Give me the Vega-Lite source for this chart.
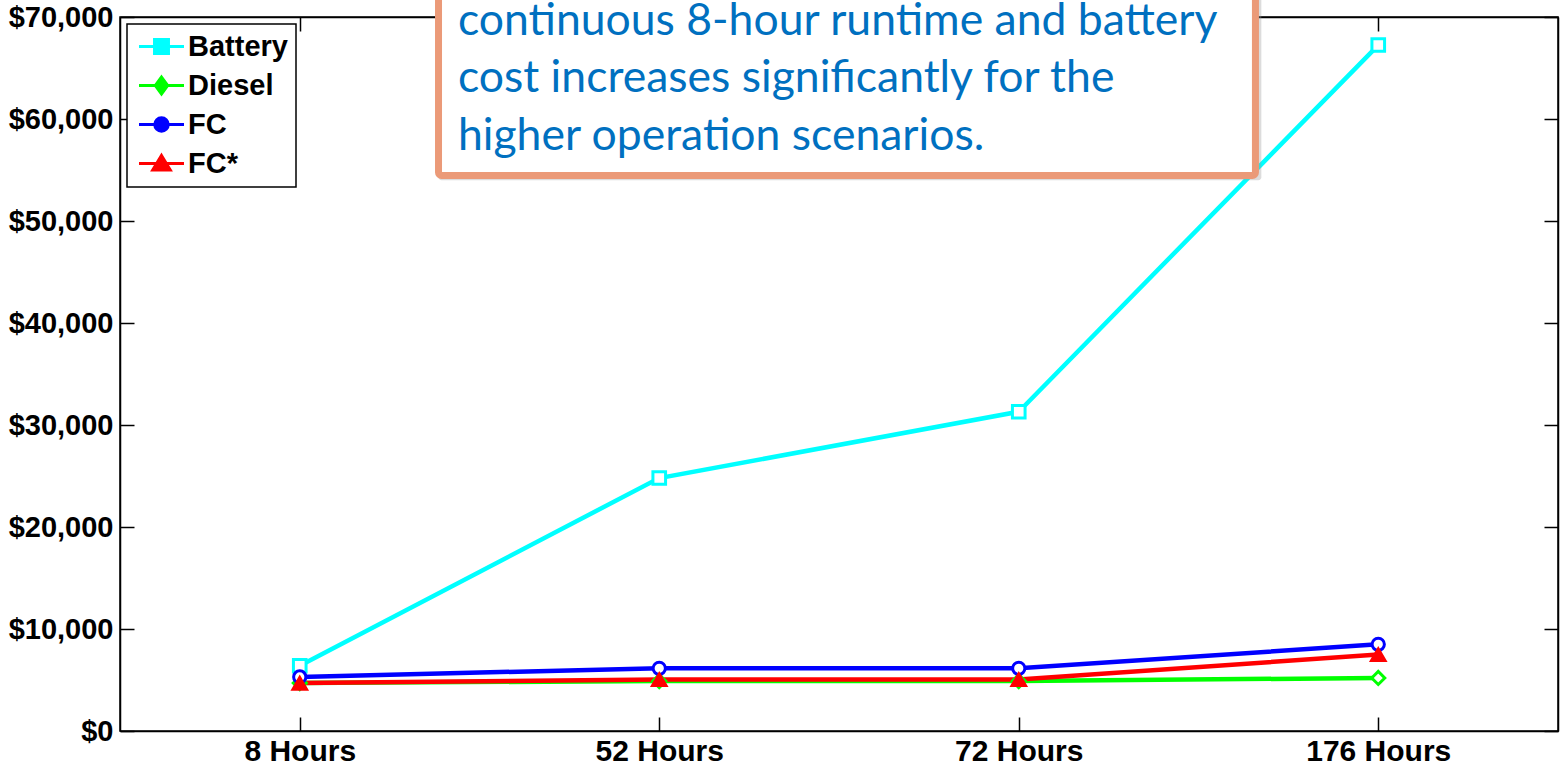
{
  "$schema": "https://vega.github.io/schema/vega-lite/v6.json",
  "width": 1438,
  "height": 714,
  "autosize": {"type": "none"},
  "padding": {"left": 120, "top": 17, "right": 2, "bottom": 36},
  "background": "white",
  "config": {"view": {"stroke": "black", "strokeWidth": 1.5}, "font": "Liberation Sans"},
  "datasets": {
    "costs": [
      {"scenario": "8 Hours", "series": "Battery", "cost": 6400},
      {"scenario": "52 Hours", "series": "Battery", "cost": 24800},
      {"scenario": "72 Hours", "series": "Battery", "cost": 31300},
      {"scenario": "176 Hours", "series": "Battery", "cost": 67250},
      {"scenario": "8 Hours", "series": "Diesel", "cost": 4700},
      {"scenario": "52 Hours", "series": "Diesel", "cost": 4900},
      {"scenario": "72 Hours", "series": "Diesel", "cost": 4900},
      {"scenario": "176 Hours", "series": "Diesel", "cost": 5200},
      {"scenario": "8 Hours", "series": "FC", "cost": 5300},
      {"scenario": "52 Hours", "series": "FC", "cost": 6150},
      {"scenario": "72 Hours", "series": "FC", "cost": 6150},
      {"scenario": "176 Hours", "series": "FC", "cost": 8500},
      {"scenario": "8 Hours", "series": "FC*", "cost": 4700},
      {"scenario": "52 Hours", "series": "FC*", "cost": 5050},
      {"scenario": "72 Hours", "series": "FC*", "cost": 5050},
      {"scenario": "176 Hours", "series": "FC*", "cost": 7500}
    ],
    "note": [
      {"lines": ["continuous 8-hour runtime and battery", "cost increases significantly for the", "higher operation scenarios."]}
    ]
  },
  "layer": [
    {
      "data": {"name": "costs"},
      "encoding": {
        "x": {"field": "scenario", "type": "ordinal", "sort": ["8 Hours", "52 Hours", "72 Hours", "176 Hours"], "scale": {"type": "point", "padding": 0.5}, "axis": null},
        "y": {"field": "cost", "type": "quantitative", "scale": {"domain": [0, 70000], "nice": false}, "axis": null}
      },
      "layer": [
        {
          "mark": {"type": "line", "strokeWidth": 4.5},
          "encoding": {
            "x": {"field": "scenario", "type": "ordinal", "sort": ["8 Hours", "52 Hours", "72 Hours", "176 Hours"], "scale": {"type": "point", "padding": 0.5},
              "axis": {"orient": "bottom", "title": null, "labelAngle": 0, "labelFont": "Liberation Sans", "labelFontSize": 30, "labelFontWeight": "bold", "labelColor": "black", "labelPadding": 19, "tickSize": -14, "tickColor": "black", "tickWidth": 1.5, "domainColor": "black", "domainWidth": 1.5, "grid": false}},
            "y": {"field": "cost", "type": "quantitative", "scale": {"domain": [0, 70000], "nice": false},
              "axis": {"orient": "left", "title": null, "values": [0, 10000, 20000, 30000, 40000, 50000, 60000, 70000], "format": "$,.0f", "labelFont": "Liberation Sans", "labelFontSize": 29, "labelFontWeight": "bold", "labelColor": "black", "labelPadding": 21, "tickSize": -14, "tickColor": "black", "tickWidth": 1.5, "domainColor": "black", "domainWidth": 1.5, "grid": false}},
            "color": {"field": "series", "type": "nominal",
              "scale": {"domain": ["Battery", "Diesel", "FC", "FC*"], "range": ["#00FFFF", "#00FF00", "#0000FF", "#FF0000"]},
              "legend": {"title": null, "orient": "top-left", "offset": 7, "fillColor": "white", "strokeColor": "black", "padding": 8, "rowPadding": 9,
                "labelFont": "Liberation Sans", "labelFontSize": 29, "labelFontWeight": "bold", "labelColor": "black",
                "symbolSize": 506, "symbolOffset": 12, "labelOffset": 12, "symbolStrokeWidth": 3,
                "encode": {
                  "symbols": {"update": {
                    "shape": {"signal": "datum.value === 'Battery' ? 'M-2,0H2M-0.62,-0.62H0.62V0.62H-0.62Z' : datum.value === 'Diesel' ? 'M-2,0H2M0,-0.75L0.55,0L0,0.75L-0.55,0Z' : datum.value === 'FC' ? 'M-2,0H2M0.6,0A0.6,0.6,0,1,1,-0.6,0A0.6,0.6,0,1,1,0.6,0Z' : 'M-2,0H2M0,-0.72L0.78,0.58H-0.78Z'"},
                    "fill": {"scale": "color", "field": "value"},
                    "stroke": {"scale": "color", "field": "value"},
                    "strokeWidth": {"value": 3},
                    "size": {"value": 506},
                    "opacity": {"value": 1},
                    "fillOpacity": {"value": 1}
                  }},
                  "legend": {"update": {"strokeWidth": {"value": 1.5}}}
                }}}
          }
        },
        {
          "transform": [{"filter": "datum.series === 'Battery'"}],
          "mark": {"type": "point", "shape": "square", "size": 160, "strokeWidth": 3, "stroke": "#00FFFF", "fill": "white", "filled": false, "opacity": 1},
          "encoding": {}
        },
        {
          "transform": [{"filter": "datum.series === 'Diesel'"}],
          "mark": {"type": "point", "shape": "diamond", "size": 170, "strokeWidth": 3, "stroke": "#00FF00", "fill": "white", "filled": false, "opacity": 1},
          "encoding": {}
        },
        {
          "transform": [{"filter": "datum.series === 'FC'"}],
          "mark": {"type": "point", "shape": "circle", "size": 150, "strokeWidth": 3, "stroke": "#0000FF", "fill": "white", "filled": false, "opacity": 1},
          "encoding": {
            "x": {"field": "scenario", "type": "ordinal", "sort": ["8 Hours", "52 Hours", "72 Hours", "176 Hours"], "scale": {"type": "point", "padding": 0.5},
              "axis": {"orient": "top", "title": null, "labels": false, "tickSize": -14, "tickColor": "black", "tickWidth": 1.5, "domainColor": "black", "domainWidth": 1.5, "grid": false}},
            "y": {"field": "cost", "type": "quantitative", "scale": {"domain": [0, 70000], "nice": false},
              "axis": {"orient": "right", "title": null, "labels": false, "values": [0, 10000, 20000, 30000, 40000, 50000, 60000, 70000], "tickSize": -14, "tickColor": "black", "tickWidth": 1.5, "domainColor": "black", "domainWidth": 1.5, "grid": false}}
          }
        },
        {
          "transform": [{"filter": "datum.series === 'FC*'"}],
          "mark": {"type": "point", "shape": "triangle-up", "size": 230, "strokeWidth": 2, "stroke": "#FF0000", "fill": "#FF0000", "filled": true, "opacity": 1},
          "encoding": {}
        }
      ]
    },
    {
      "data": {"name": "note"},
      "layer": [
        {
          "mark": {"type": "rect", "color": "#9a9a9a", "opacity": 0.35, "cornerRadius": 3},
          "encoding": {
            "x": {"datum": 0.2215, "type": "quantitative", "scale": {"domain": [0, 1], "nice": false, "zero": false}, "axis": null},
            "x2": {"datum": 0.7937},
            "y": {"datum": 54000, "type": "quantitative", "axis": null},
            "y2": {"datum": 80000}
          }
        },
        {
          "mark": {"type": "rect", "fill": "white", "stroke": "#EB9A78", "strokeWidth": 7, "cornerRadius": 3},
          "encoding": {
            "x": {"datum": 0.2215, "type": "quantitative", "scale": {"domain": [0, 1], "nice": false, "zero": false}, "axis": null},
            "x2": {"datum": 0.7896},
            "y": {"datum": 54461, "type": "quantitative", "axis": null},
            "y2": {"datum": 80000}
          }
        },
        {
          "mark": {"type": "text", "align": "left", "baseline": "alphabetic", "font": "Lato", "fontSize": 44.5, "color": "#0070C0", "lineHeight": 57.3},
          "encoding": {
            "x": {"datum": 0.235, "type": "quantitative", "scale": {"domain": [0, 1], "nice": false, "zero": false}, "axis": null},
            "y": {"datum": 68235, "type": "quantitative", "axis": null},
            "text": {"field": "lines"}
          }
        }
      ]
    }
  ],
  "resolve": {"scale": {"x": "independent"}}
}
